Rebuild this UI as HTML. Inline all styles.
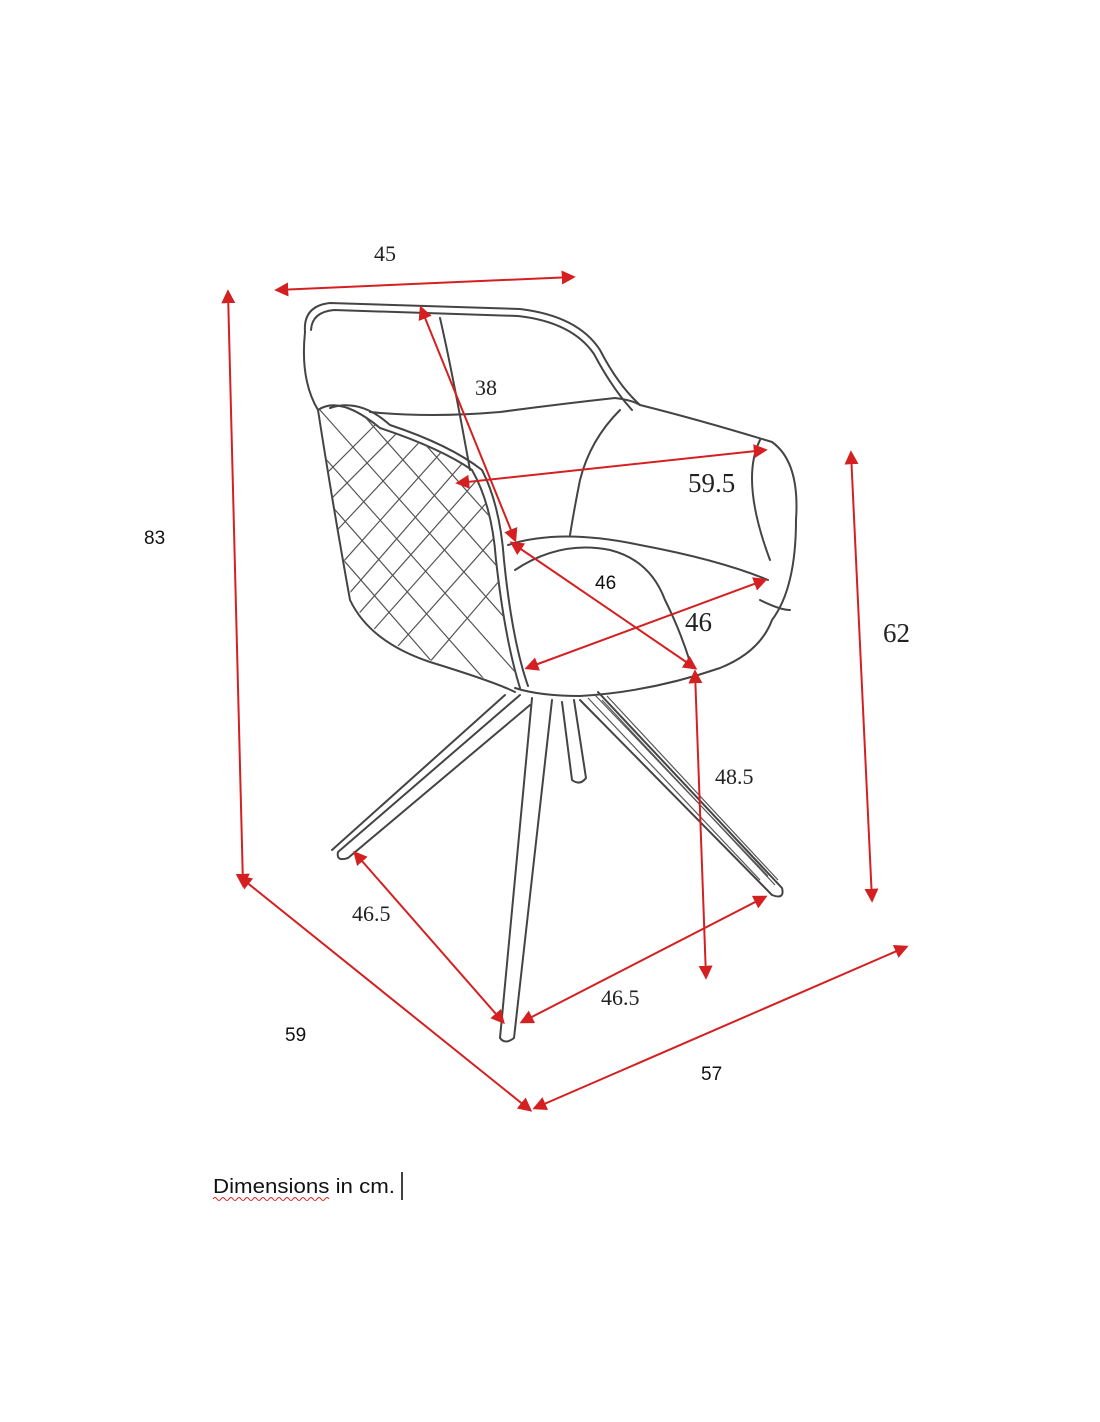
<!DOCTYPE html>
<html><head><meta charset="utf-8"><style>
html,body{margin:0;padding:0;background:#fff;width:1100px;height:1422px;overflow:hidden}
svg{display:block}
.s{font-family:"Liberation Serif",serif;font-size:22px;fill:#222}
.b{font-family:"Liberation Serif",serif;font-size:27px;fill:#222}
.a{font-family:"Liberation Sans",sans-serif;font-size:19px;fill:#111}
.r{stroke:#d42020;stroke-width:2;fill:none;marker-start:url(#h);marker-end:url(#h)}
.c{stroke:#444;stroke-width:2;fill:none;stroke-linecap:round;stroke-linejoin:round}
.t{stroke:#555;stroke-width:1.2;fill:none}
</style></head><body>
<svg width="1100" height="1422" viewBox="0 0 1100 1422" xmlns="http://www.w3.org/2000/svg">
<defs>
<marker id="h" viewBox="0 0 10 10" refX="8" refY="5" markerWidth="7" markerHeight="7" orient="auto-start-reverse">
<path d="M0,0 L10,5 L0,10 z" fill="#d42020"/></marker>
<clipPath id="cb"><path d="M318,410 Q340,395 380,428 Q440,448 472,470 Q492,505 496,560 Q505,640 520,688 Q470,675 430,660 Q372,640 352,600 Q332,500 318,410z"/></clipPath>
</defs>
<rect width="1100" height="1422" fill="#fff"/>
<g>
<path class="c" d="M305,332 Q303,306 330,303 L520,309 Q578,316 600,350 Q618,385 640,405 Q700,420 772,442 Q800,462 796,520 Q796,588 772,620 Q760,652 720,668 Q650,692 580,696 Q540,696 515,688"/>
<path class="c" d="M311,330 Q312,312 334,310 L518,316 Q572,322 594,354 Q612,388 632,410"/>
<path class="c" d="M305,332 Q300,380 318,410 Q332,500 350,600 Q370,642 430,662 Q495,682 515,692"/>
<path class="c" d="M318,410 Q340,395 380,428 Q440,448 472,470 Q492,505 496,560 Q505,640 520,688"/>
<path class="c" d="M330,408 Q360,398 390,425 Q450,445 482,470 Q500,505 504,560 Q512,640 528,686"/>
<path class="c" d="M370,412 Q430,418 500,412 Q560,404 615,398 Q632,400 640,405"/>
<path class="c" d="M440,318 Q452,370 470,470"/>
<path class="c" d="M620,410 Q590,440 580,480 Q574,510 570,535"/>
<path class="c" d="M508,545 Q560,528 640,545 Q720,560 768,580"/>
<path class="c" d="M515,570 Q560,540 610,550 Q650,560 665,600 Q680,630 690,662"/>
<path class="c" d="M760,440 Q740,480 770,560"/>
<path class="c" d="M760,600 Q780,610 790,610"/>
<g clip-path="url(#cb)">
<g class="t">
<path d="M300,430 L540,700 M300,470 L520,720 M300,510 L500,740 M300,550 L480,760 M320,410 L560,680 M350,400 L580,660 M390,405 L600,640 M430,410 L620,620 M470,420 L640,600"/>
<path d="M560,420 L320,690 M530,420 L300,680 M500,420 L300,650 M470,420 L300,610 M440,420 L300,570 M410,420 L300,530 M380,420 L300,500 M590,430 L350,700 M620,440 L380,720"/>
</g></g>
<path class="c" d="M532,698 L500,1038 Q505,1045 514,1038 L552,700"/>
<path class="c" d="M520,695 L338,852 Q336,862 348,858 L530,705"/>
<path class="c" d="M505,695 L332,850"/>
<path class="c" d="M580,700 L772,895 Q785,900 782,888 L598,692"/>
<path class="t" d="M588,698 L760,880 M594,694 L768,876 M602,700 L775,885 M607,696 L778,880"/>
<path class="c" d="M562,702 L572,780 Q580,786 586,778 L574,700"/>
</g>
<line class="r" x1="277" y1="290" x2="573" y2="277"/>
<line class="r" x1="228" y1="292" x2="243" y2="885"/>
<line class="r" x1="421" y1="308" x2="515" y2="540"/>
<line class="r" x1="458" y1="483" x2="765" y2="450"/>
<line class="r" x1="512" y1="543" x2="695" y2="668"/>
<line class="r" x1="527" y1="668" x2="765" y2="580"/>
<line class="r" x1="851" y1="453" x2="872" y2="900"/>
<line class="r" x1="695" y1="672" x2="706" y2="977"/>
<line class="r" x1="355" y1="853" x2="503" y2="1022"/>
<line class="r" x1="522" y1="1022" x2="765" y2="897"/>
<line class="r" x1="240" y1="877" x2="530" y2="1110"/>
<line class="r" x1="535" y1="1108" x2="906" y2="947"/>
<text class="s" x="374" y="261">45</text>
<text class="a" x="144" y="544">83</text>
<text class="s" x="475" y="395">38</text>
<text class="b" x="688" y="492">59.5</text>
<text class="a" x="595" y="589">46</text>
<text class="b" x="685" y="631">46</text>
<text class="b" x="883" y="642">62</text>
<text class="s" x="715" y="784">48.5</text>
<text class="s" x="352" y="921">46.5</text>
<text class="s" x="601" y="1005">46.5</text>
<text class="a" x="285" y="1041">59</text>
<text class="a" x="701" y="1080">57</text>
<text class="a" x="213" y="1193" textLength="182" lengthAdjust="spacingAndGlyphs" style="font-size:20px">Dimensions in cm.</text>
<path d="M213,1199 q2,-3 4,0 t4,0 t4,0 t4,0 t4,0 t4,0 t4,0 t4,0 t4,0 t4,0 t4,0 t4,0 t4,0 t4,0 t4,0 t4,0 t4,0 t4,0 t4,0 t4,0 t4,0 t4,0 t4,0 t4,0 t4,0 t4,0 t4,0 t4,0 t4,0" stroke="#d42020" stroke-width="1" fill="none"/>
<line x1="402" y1="1172" x2="402" y2="1200" stroke="#000" stroke-width="1.5"/>
</svg>
</body></html>
